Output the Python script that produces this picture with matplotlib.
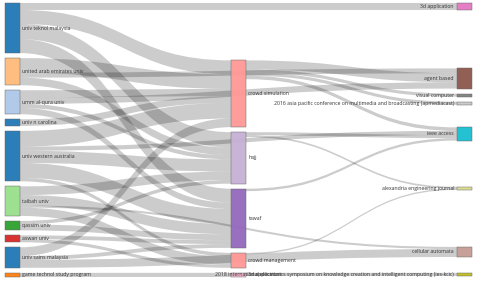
import matplotlib
matplotlib.use("Agg")
import matplotlib.pyplot as plt
from matplotlib.path import Path
from matplotlib.patches import PathPatch, Rectangle

# ---------------- data ----------------
node_labels = [
    "univ teknol malaysia", "united arab emirates univ", "umm al-qura univ",
    "univ n carolina", "univ western australia", "taibah univ", "qassim univ",
    "aswan univ", "univ sains malaysia", "game technol study program",
    "crowd simulation", "hajj", "tawaf", "crowd management", "3d application",
    "3d application", "agent based", "visual computer",
    "2016 asia pacific conference on multimedia and broadcasting (apmediacast)",
    "ieee access", "alexandria engineering journal", "cellular automata",
    "2018 international electronics symposium on knowledge creation and intelligent computing (ies-kcic)",
]
node_colors = [
    "#1f77b4", "#ffbb78", "#aec7e8", "#1f77b4", "#1f77b4", "#98df8a", "#2ca02c",
    "#d62728", "#1f77b4", "#ff7f0e",
    "#ff9896", "#c5b0d5", "#9467bd", "#ff9896", "#f7b6d2",
    "#e377c2", "#8c564b", "#7f7f7f", "#c7c7c7", "#17becf", "#dbdb8d", "#c49c94",
    "#bcbd22",
]
link_source = [0, 0, 0, 0,
               1, 1, 1,
               2, 2, 2, 2,
               3,
               4, 4, 4, 4, 4,
               5, 5, 5, 5,
               6, 6,
               7, 7,
               8, 8, 8,
               9,
               10, 10, 10, 10,
               11, 11,
               12,
               13,
               14]
link_target = [15, 10, 11, 12,
               16, 10, 11,
               16, 10, 11, 12,
               10,
               10, 11, 12, 19, 13,
               11, 12, 13, 21,
               12, 11,
               12, 13,
               10, 12, 21,
               14,
               16, 17, 18, 19,
               19, 20,
               19,
               20,
               22]
link_value = [2.0, 4.0, 4.4, 4.0,
              1.4, 4.2, 2.2,
              1.8, 2.1, 1.2, 1.8,
              1.9,
              4.5, 3.5, 4.3, 1.2, 1.0,
              2.5, 3.0, 2.4, 0.6,
              1.7, 1.0,
              1.1, 0.9,
              2.5, 1.1, 2.3,
              1.2,
              2.6, 0.9, 0.9, 1.0,
              0.9, 0.5,
              0.7,
              0.4,
              0.9]

# ---------------- sankey layout (relaxation on link positions, node order kept) ----------------
W, H = 480, 282
X0, X1, Y0, Y1 = 5, 472, 3, 277
NODE_W, PAD, ITER = 15, 5, 50

n = len(node_labels)
links = [dict(s=s, t=t, v=v, idx=k) for k, (s, t, v) in enumerate(zip(link_source, link_target, link_value))]
src_links = [[] for _ in range(n)]
tgt_links = [[] for _ in range(n)]
for l in links:
    src_links[l["s"]].append(l)
    tgt_links[l["t"]].append(l)
value = [max(sum(l["v"] for l in src_links[i]), sum(l["v"] for l in tgt_links[i])) for i in range(n)]

depth = [0] * n
remaining, x = list(range(n)), 0
while remaining:
    nxt = []
    for i in remaining:
        depth[i] = x
        for l in src_links[i]:
            if l["t"] not in nxt:
                nxt.append(l["t"])
    remaining, x = nxt, x + 1
ncol = x
layer = [depth[i] if src_links[i] else ncol - 1 for i in range(n)]
kx = (X1 - X0 - NODE_W) / (ncol - 1)
nx0 = [X0 + c * kx for c in layer]
columns = [[i for i in range(n) if layer[i] == c] for c in range(ncol)]

ky = min((Y1 - Y0 - (len(c) - 1) * PAD) / sum(value[i] for i in c) for c in columns)
ny0 = [0.0] * n
ny1 = [0.0] * n
for c in columns:
    for k, i in enumerate(c):
        ny0[i] = k
        ny1[i] = k + value[i] * ky
for l in links:
    l["w"] = l["v"] * ky


def shift(i, dy):
    ny0[i] += dy
    ny1[i] += dy


def center(i):
    return (ny0[i] + ny1[i]) / 2


def link_breadths():
    for i in range(n):
        src_links[i].sort(key=lambda l: (ny0[l["t"]], l["idx"]))
        tgt_links[i].sort(key=lambda l: (ny0[l["s"]], l["idx"]))
        y = ny0[i]
        for l in src_links[i]:
            l["y0"] = y + l["w"] / 2
            y += l["w"]
        y = ny0[i]
        for l in tgt_links[i]:
            l["y1"] = y + l["w"] / 2
            y += l["w"]


def resolve():
    for c in columns:
        y = Y0
        for i in c:
            dy = y - ny0[i]
            if dy > 0:
                shift(i, dy)
            y = ny1[i] + PAD
        dy = y - PAD - Y1
        if dy > 0:
            last = c[-1]
            shift(last, -dy)
            y = ny0[last]
            for i in reversed(c[:-1]):
                dy = ny1[i] + PAD - y
                if dy > 0:
                    shift(i, -dy)
                y = ny0[i]


resolve()
alpha = 1.0
for _ in range(ITER):
    alpha *= 0.99
    link_breadths()
    for c in reversed(columns):
        for i in c:
            if src_links[i]:
                sv = sum(l["v"] for l in src_links[i])
                m = sum((l["y1"] - l["y0"] + center(i)) * l["v"] for l in src_links[i]) / sv
                shift(i, (m - center(i)) * alpha)
    resolve()
    link_breadths()
    for c in columns:
        for i in c:
            if tgt_links[i]:
                sv = sum(l["v"] for l in tgt_links[i])
                m = sum((l["y0"] - l["y1"] + center(i)) * l["v"] for l in tgt_links[i]) / sv
                shift(i, (m - center(i)) * alpha)
    resolve()
link_breadths()

# ---------------- drawing ----------------
fig = plt.figure(figsize=(W / 100, H / 100), dpi=100)
ax = fig.add_axes([0, 0, 1, 1])
ax.set_xlim(0, W)
ax.set_ylim(H, 0)
ax.axis("off")

for l in links:
    xa = nx0[l["s"]] + NODE_W
    xb = nx0[l["t"]]
    xm = (xa + xb) / 2
    ya0, ya1 = l["y0"] - l["w"] / 2, l["y0"] + l["w"] / 2
    yb0, yb1 = l["y1"] - l["w"] / 2, l["y1"] + l["w"] / 2
    verts = [(xa, ya0), (xm, ya0), (xm, yb0), (xb, yb0), (xb, yb1),
             (xm, yb1), (xm, ya1), (xa, ya1), (xa, ya0)]
    codes = [Path.MOVETO, Path.CURVE4, Path.CURVE4, Path.CURVE4, Path.LINETO,
             Path.CURVE4, Path.CURVE4, Path.CURVE4, Path.CLOSEPOLY]
    ax.add_patch(PathPatch(Path(verts, codes), facecolor=(0, 0, 0, 0.2),
                           edgecolor="none", lw=0))

for i in range(n):
    ax.add_patch(Rectangle((nx0[i], ny0[i]), NODE_W, ny1[i] - ny0[i],
                           facecolor=node_colors[i], edgecolor="#666666",
                           lw=0.35, alpha=0.95))
    cy = center(i)
    if layer[i] == ncol - 1:
        ax.text(nx0[i] - 3, cy, node_labels[i], ha="right", va="center",
                fontsize=3.7, color="#333333", family="Open Sans")
    else:
        ax.text(nx0[i] + NODE_W + 2.5, cy, node_labels[i], ha="left", va="center",
                fontsize=3.7, color="#333333", family="Open Sans")

fig.savefig("out.png", dpi=100)
